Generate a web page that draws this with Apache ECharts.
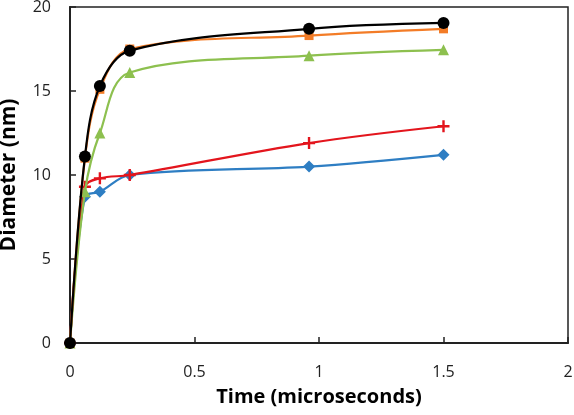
<!DOCTYPE html>
<html>
<head>
<meta charset="utf-8">
<script src="https://cdn.jsdelivr.net/npm/echarts@6/dist/echarts.min.js"></script>
<style>
html,body{margin:0;padding:0;background:#fff;}
#chart{width:574px;height:415px;}
</style>
</head>
<body>
<div id="chart"></div>
<script>
const times = [0, 0.06, 0.12, 0.24, 0.96, 1.5];
const blueVals = [0, 8.7, 9.0, 10.0, 10.5, 11.2];
const redVals = [0, 9.3, 9.8, 10.0, 11.9, 12.9];
const greenVals = [0, 9.0, 12.5, 16.1, 17.1, 17.45];
const orangeVals = [0, 11.0, 15.1, 17.5, 18.3, 18.7];
const blackVals = [0, 11.1, 15.3, 17.4, 18.7, 19.05];
const xTicks = [0, 0.5, 1, 1.5, 2];
const yTicks = [0, 5, 10, 15, 20];

function pairs(vals){ return times.map((t,i)=>[t, vals[i]]); }

const font = "'Open Sans', 'Noto Sans', sans-serif";
function mk(name, vals, color, symbol, size, z){
  return {
    name, type:'line', data: pairs(vals), smooth:0.35,
    symbol, symbolSize:size, z,
    lineStyle:{color, width:2.2},
    itemStyle:{color, borderWidth:0},
    emphasis:{disabled:true}
  };
}
const crossPath = 'path://M4,0 L6,0 L6,4 L10,4 L10,6 L6,6 L6,10 L4,10 L4,6 L0,6 L0,4 L4,4 Z';

const chart = echarts.init(document.getElementById('chart'));
chart.setOption({
  animation:false,
  grid:{left:70, right:6, top:7, bottom:72, show:true, borderColor:'#222', borderWidth:1.5,
        containLabel:false, outerBoundsMode:'none'},
  xAxis:{
    type:'value', min:0, max:2, interval:0.5,
    name:'Time (microseconds)', nameLocation:'middle', nameGap:44,
    nameTextStyle:{fontFamily:font, fontWeight:'bold', fontSize:20, color:'#000'},
    axisLine:{lineStyle:{color:'#222', width:2}},
    axisTick:{inside:true, length:6, lineStyle:{color:'#222', width:1.5}},
    axisLabel:{fontFamily:font, fontSize:16, color:'#222', margin:21,
      formatter:v=>String(xTicks.find(t=>Math.abs(t-v)<1e-9) ?? v)},
    splitLine:{show:false}
  },
  yAxis:{
    type:'value', min:0, max:20, interval:5,
    name:'Diameter (nm)', nameLocation:'middle', nameGap:50,
    nameTextStyle:{fontFamily:font, fontWeight:'bold', fontSize:21, color:'#000'},
    axisLine:{show:true, lineStyle:{color:'#222', width:2}},
    axisTick:{show:true, inside:true, length:6, lineStyle:{color:'#222', width:1.5}},
    axisLabel:{fontFamily:font, fontSize:16, color:'#222', margin:19,
      formatter:v=>String(yTicks.find(t=>Math.abs(t-v)<1e-9) ?? v)},
    splitLine:{show:false}
  },
  series:[
    mk('blue', blueVals, '#2E7EC3', 'diamond', 12, 2),
    mk('red', redVals, '#E3151D', crossPath, 12, 3),
    mk('green', greenVals, '#8DC04F', 'triangle', 11, 4),
    mk('orange', orangeVals, '#F37C27', 'rect', 9, 5),
    mk('black', blackVals, '#000000', 'circle', 12, 6)
  ]
});
</script>
</body>
</html>
